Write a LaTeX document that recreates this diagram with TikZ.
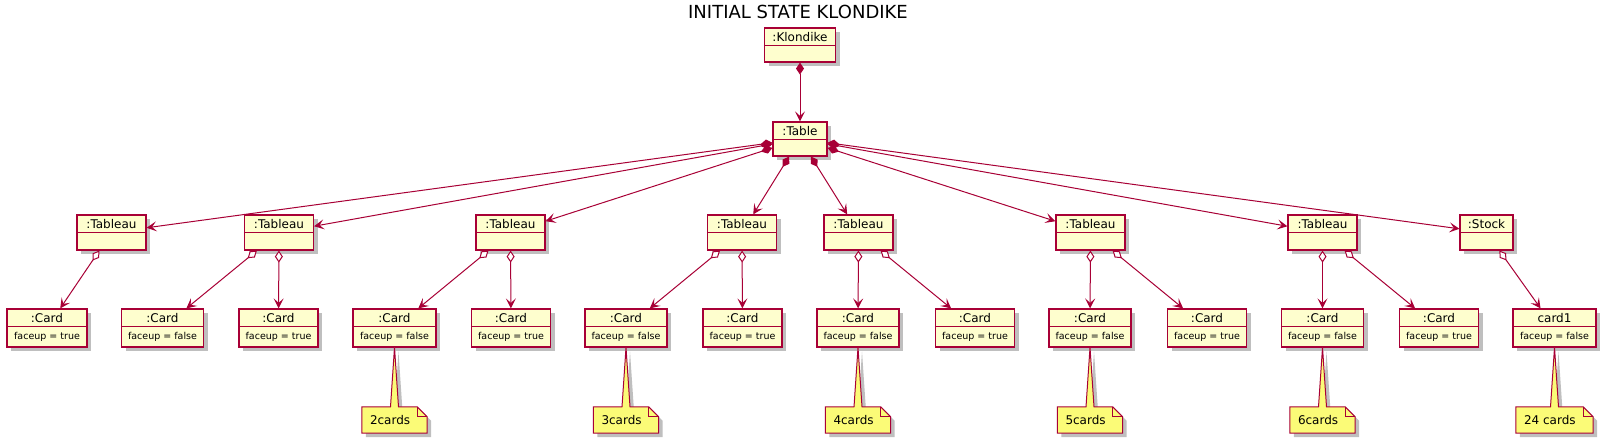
\documentclass[tikz,border=0pt]{standalone}
\usepackage{fontspec}
\setmainfont{DejaVu Sans}
\usetikzlibrary{arrows.meta,shadows,calc}
\definecolor{umlred}{HTML}{A80036}
\definecolor{umlfill}{HTML}{FEFECE}
\definecolor{notefill}{HTML}{FBFB77}
\tikzset{
  shade4/.style={drop shadow={shadow xshift=4bp,shadow yshift=-4bp,fill=black,opacity=0.25}},
  objbox/.style={draw=umlred,fill=umlfill,line width=1.2bp,shade4,inner sep=0pt,rectangle},
  objline/.style={draw=umlred,line width=1.2bp},
  objtitle/.style={font=\fontsize{12bp}{14bp}\selectfont,inner sep=0pt,text=black},
  objbody/.style={font=\fontsize{9.5bp}{11bp}\selectfont,inner sep=0pt,text=black},
  notepath/.style={draw=umlred,fill=notefill,line width=1bp,shade4},
  notefold/.style={draw=umlred,line width=1bp},
  notebox/.style={inner sep=0pt,rectangle},
  notetext/.style={font=\fontsize{12bp}{14bp}\selectfont,inner sep=0pt,anchor=west},
  comp/.style={draw=umlred,line width=1bp,{Diamond[length=12bp,width=8bp]}-{Stealth[length=10bp,width=10bp,inset=4.5bp]}},
  aggr/.style={draw=umlred,line width=1bp,{Diamond[open,fill=white,length=12bp,width=8bp]}-{Stealth[length=10bp,width=10bp,inset=4.5bp]}},
}
\newcommand{\umlobj}[7]{%
  \node[objbox,minimum width=#4bp,minimum height=#5bp] (#1) at (#2,#3) {};
  \draw[objline] ($(#1.north west)+(0,18)$) -- ($(#1.north east)+(0,18)$);
  \node[objtitle] (#1-t) at ($(#1.north)+(0,9.5)$) {#6};
  \node[objbody] (#1-b) at ($(#1.north)+(0,{18+(#5-18)/2})$) {#7};
}
\newcommand{\umlnote}[5]{% name, cx, width, text, card
  \node[notebox,minimum width=#3bp,minimum height=26bp] (#1) at (#2,420) {};
  \draw[notepath] (#1.north west) -- ($(#1.north)+(-4,0)$) -- (#5.south) -- ($(#1.north)+(4,0)$)
     -- ($(#1.north east)+(-10,0)$) -- ($(#1.north east)+(0,10)$) -- (#1.south east) -- (#1.south west) -- cycle;
  \draw[notefold] ($(#1.north east)+(-10,0)$) -- ($(#1.north east)+(-10,10)$) -- ($(#1.north east)+(0,10)$);
  \node[notetext] (#1-t) at ($(#1.west)+(8,0.5)$) {#4};
}
\begin{document}
\begin{tikzpicture}[x=1bp,y=-1bp]
\useasboundingbox[fill=white] (0,0) rectangle (1608,439);
\node[font=\fontsize{18bp}{20bp}\selectfont,inner sep=0pt] (title) at (798,12) {INITIAL STATE KLONDIKE};
% top objects
\umlobj{klon}{800}{45}{71}{34}{:Klondike}{}
\umlobj{table}{800}{139}{54}{34}{:Table}{}
% tableaus and stock
\umlobj{t1}{111.5}{232.5}{69}{35}{:Tableau}{}
\umlobj{t2}{279}{232.5}{69}{35}{:Tableau}{}
\umlobj{t3}{510.5}{232.5}{69}{35}{:Tableau}{}
\umlobj{t4}{742}{232.5}{69}{35}{:Tableau}{}
\umlobj{t5}{858.5}{232.5}{69}{35}{:Tableau}{}
\umlobj{t6}{1090.5}{232.5}{69}{35}{:Tableau}{}
\umlobj{t7}{1322.5}{232.5}{69}{35}{:Tableau}{}
\umlobj{stock}{1486.5}{232.5}{53}{35}{:Stock}{}
% cards
\umlobj{c1}{47}{328}{80}{38}{:Card}{faceup = true}
\umlobj{c2a}{162.5}{328}{82}{38}{:Card}{faceup = false}
\umlobj{c2b}{278.5}{328}{79}{38}{:Card}{faceup = true}
\umlobj{c3a}{394.5}{328}{83}{38}{:Card}{faceup = false}
\umlobj{c3b}{511}{328}{79}{38}{:Card}{faceup = true}
\umlobj{c4a}{626}{328}{82}{38}{:Card}{faceup = false}
\umlobj{c4b}{742.5}{328}{79}{38}{:Card}{faceup = true}
\umlobj{c5a}{858}{328}{82}{38}{:Card}{faceup = false}
\umlobj{c5b}{975}{328}{79}{38}{:Card}{faceup = true}
\umlobj{c6a}{1090}{328}{82}{38}{:Card}{faceup = false}
\umlobj{c6b}{1207}{328}{79}{38}{:Card}{faceup = true}
\umlobj{c7a}{1322.5}{328}{82}{38}{:Card}{faceup = false}
\umlobj{c7b}{1439}{328}{79}{38}{:Card}{faceup = true}
\umlobj{card1}{1554.5}{328}{83}{38}{card1}{faceup = false}
% notes
\umlnote{n2}{394.5}{65}{2cards}{c3a}
\umlnote{n3}{626}{65}{3cards}{c4a}
\umlnote{n4}{858}{65}{4cards}{c5a}
\umlnote{n5}{1090}{65}{5cards}{c6a}
\umlnote{n6}{1322.5}{65}{6cards}{c7a}
\umlnote{n24}{1554.5}{77}{24 cards}{card1}
% compositions
\draw[comp] (klon) -- (table);
\foreach \t in {t1,t2,t3,t4,t5,t6,t7,stock} \draw[comp] (table) -- (\t);
% aggregations
\draw[aggr] (t1) -- (c1);
\draw[aggr] (t2) -- (c2a);
\draw[aggr] (t2) -- (c2b);
\draw[aggr] (t3) -- (c3a);
\draw[aggr] (t3) -- (c3b);
\draw[aggr] (t4) -- (c4a);
\draw[aggr] (t4) -- (c4b);
\draw[aggr] (t5) -- (c5a);
\draw[aggr] (t5) -- (c5b);
\draw[aggr] (t6) -- (c6a);
\draw[aggr] (t6) -- (c6b);
\draw[aggr] (t7) -- (c7a);
\draw[aggr] (t7) -- (c7b);
\draw[aggr] (stock) -- (card1);
\end{tikzpicture}
\end{document}
